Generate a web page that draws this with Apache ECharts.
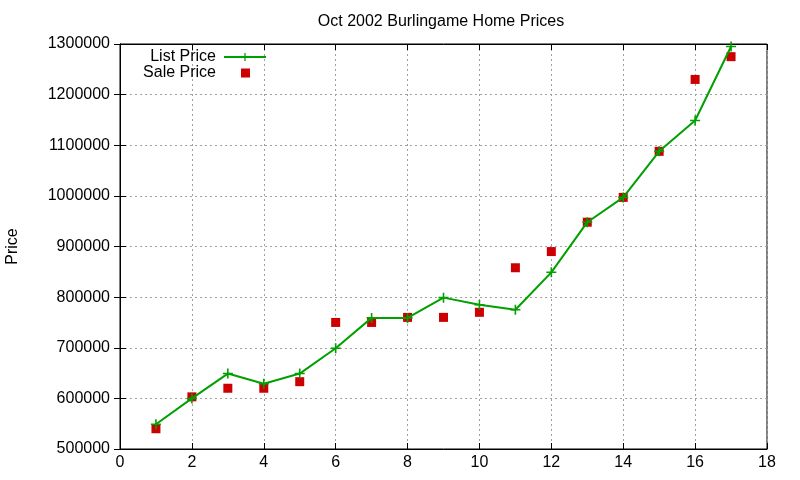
<!DOCTYPE html>
<html>
<head>
<meta charset="utf-8">
<script src="https://cdn.jsdelivr.net/npm/echarts@6/dist/echarts.min.js"></script>
<style>
  html, body { margin: 0; padding: 0; background: #fff; }
  #chart { width: 800px; height: 480px; }
</style>
</head>
<body>
<div id="chart"></div>
<script>
// house index on the x axis
var houses = [1, 2, 3, 4, 5, 6, 7, 8, 9, 10, 11, 12, 13, 14, 15, 16, 17];
var listPrice = [549000, 600000, 649000, 629000, 649000, 699000, 759000, 759000, 799000,
                 785000, 775000, 849000, 948000, 997000, 1088000, 1149000, 1295000];
var salePrice = [540000, 603000, 620000, 620000, 633000, 750000, 750000, 760000, 760000,
                 770000, 858000, 890000, 948000, 997000, 1088000, 1230000, 1275000];

var font = 'Liberation Sans, Arial, sans-serif';
var plus = 'path://M4.2,0H5.8V4.2H10V5.8H5.8V10H4.2V5.8H0V4.2H4.2Z';

function pairs(vals) {
    return houses.map(function (h, i) { return [h, vals[i]]; });
}

var chart = echarts.init(document.getElementById('chart'));
chart.setOption({
    backgroundColor: '#fff',
    animation: false,
    title: {
        text: 'Oct 2002 Burlingame Home Prices',
        left: 436, top: 9, textAlign: 'center',
        textStyle: { fontFamily: font, fontSize: 16, fontWeight: 'normal', color: '#000' }
    },
    legend: [{
        orient: 'vertical',
        right: 533, top: 49, padding: 0,
        align: 'right',
        itemWidth: 42, itemHeight: 10,
        textStyle: { fontFamily: font, fontSize: 16, color: '#000', padding: [0, 3, 0, 0] },
        data: ['List Price']
    }, {
        orient: 'vertical',
        right: 550, top: 65, padding: 0,
        align: 'right',
        itemWidth: 9, itemHeight: 9,
        textStyle: { fontFamily: font, fontSize: 16, color: '#000', padding: [0, 20, 0, 0] },
        data: ['Sale Price']
    }],
    grid: { left: 120, right: 33, top: 44, bottom: 31, outerBoundsMode: 'none',
            show: true, borderColor: '#000', borderWidth: 1 },
    xAxis: [{
        type: 'value', min: 0, max: 18, interval: 2,
        axisLine: { show: true, lineStyle: { color: '#000' } },
        axisTick: { inside: true, length: 6, lineStyle: { color: '#000' } },
        axisLabel: { fontFamily: font, fontSize: 16, color: '#000', margin: 6 },
        splitLine: { show: true, lineStyle: { color: '#a0a0a0', type: [2, 3] } }
    }, {
        type: 'value', min: 0, max: 18, interval: 2, position: 'top',
        axisLine: { show: true, lineStyle: { color: '#000' } },
        axisTick: { inside: true, length: 6, lineStyle: { color: '#000' } },
        axisLabel: { show: false }, splitLine: { show: false }
    }],
    yAxis: [{
        type: 'value', min: 500000, max: 1300000, interval: 100000,
        name: 'Price', nameLocation: 'middle', nameGap: 99, nameRotate: 90,
        nameTextStyle: { fontFamily: font, fontSize: 16, color: '#000' },
        axisLine: { show: true, lineStyle: { color: '#000' } },
        axisTick: { inside: true, length: 6, lineStyle: { color: '#000' } },
        axisLabel: { fontFamily: font, fontSize: 16, color: '#000', margin: 10,
                     formatter: function (v) { return String(v); } },
        splitLine: { show: true, lineStyle: { color: '#a0a0a0', type: [2, 3] } }
    }, {
        type: 'value', min: 500000, max: 1300000, interval: 100000, position: 'right',
        axisLine: { show: true, lineStyle: { color: '#000' } },
        axisTick: { inside: true, length: 6, lineStyle: { color: '#000' } },
        axisLabel: { show: false }, splitLine: { show: false }
    }],
    series: [{
        name: 'List Price',
        type: 'line',
        data: pairs(listPrice),
        symbol: plus,
        symbolSize: 10,
        showAllSymbol: true,
        itemStyle: { color: '#00a000' },
        lineStyle: { color: '#00a000', width: 2 },
        z: 3
    }, {
        name: 'Sale Price',
        type: 'scatter',
        data: pairs(salePrice),
        symbol: 'rect',
        symbolSize: 9,
        itemStyle: { color: '#cc0000', opacity: 1 },
        z: 2
    }]
});
</script>
</body>
</html>
